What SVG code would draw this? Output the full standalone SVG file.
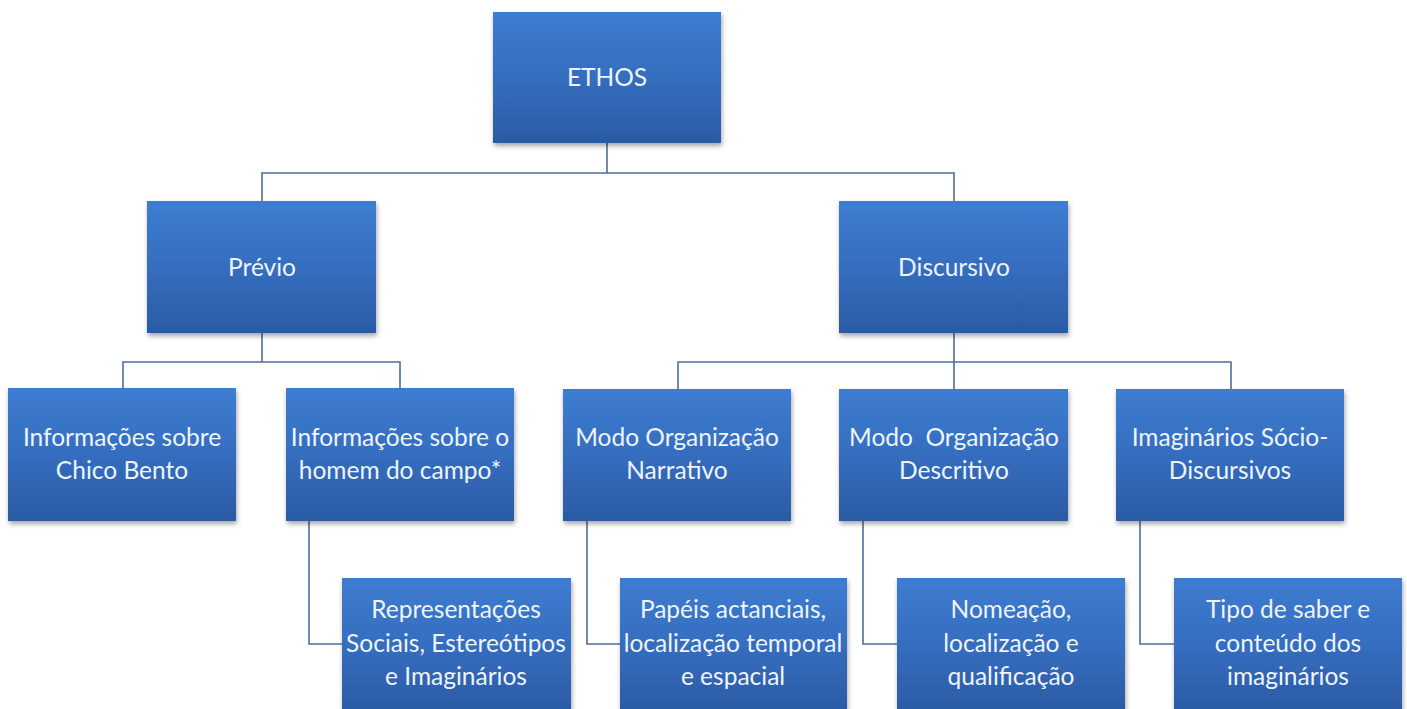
<svg xmlns="http://www.w3.org/2000/svg" width="1407" height="709" viewBox="0 0 1407 709">
<defs>
<linearGradient id="g" x1="0" y1="0" x2="0" y2="1">
<stop offset="0" stop-color="#3d7dd1"/>
<stop offset="0.5" stop-color="#356dbf"/>
<stop offset="1" stop-color="#2b5ba4"/>
</linearGradient>
<filter id="sh" x="-5%" y="-5%" width="115%" height="120%">
<feDropShadow dx="1" dy="3" stdDeviation="2.5" flood-color="#000" flood-opacity="0.35"/>
</filter>
</defs>
<style>
.box{fill:url(#g);filter:url(#sh)}
.t{font-family:Lato,"Liberation Sans",sans-serif;font-size:24.5px;fill:#eef4fc;text-anchor:middle}
.c{fill:none;stroke:#4d6f9c;stroke-width:1.6}
</style>
<rect width="1407" height="709" fill="#ffffff"/>
<g id="connectors">
<path class="c" d="M607 143 V173 M262 201 V173 H954 V201"/>
<path class="c" d="M262 333 V362 M123 388 V362 H400 V388"/>
<path class="c" d="M954 333 V389 M678 389 V362 H1231 V389"/>
<path class="c" d="M309 521 V644 H342"/>
<path class="c" d="M587 521 V644 H620"/>
<path class="c" d="M863 521 V644 H897"/>
<path class="c" d="M1140 521 V644 H1174"/>
</g>
<g id="ethos"><rect class="box" x="493" y="12" width="228" height="131"/><text class="t" x="607" y="86">ETHOS</text></g>
<g id="previo"><rect class="box" x="147" y="201" width="229" height="132"/><text class="t" x="262" y="276">Prévio</text></g>
<g id="discursivo"><rect class="box" x="839" y="201" width="229" height="132"/><text class="t" x="954" y="276">Discursivo</text></g>
<g id="chico"><rect class="box" x="8" y="388" width="228" height="133"/><text class="t" x="122" y="446">Informações sobre</text><text class="t" x="122" y="479">Chico Bento</text></g>
<g id="homem"><rect class="box" x="286" y="388" width="228" height="133"/><text class="t" x="400" y="446">Informações sobre o</text><text class="t" x="400" y="479">homem do campo*</text></g>
<g id="narrativo"><rect class="box" x="563" y="389" width="228" height="132"/><text class="t" x="677" y="446">Modo Organização</text><text class="t" x="677" y="479">Narrativo</text></g>
<g id="descritivo"><rect class="box" x="839" y="389" width="229" height="132"/><text class="t" x="954" y="446" xml:space="preserve">Modo  Organização</text><text class="t" x="954" y="479">Descritivo</text></g>
<g id="imaginarios"><rect class="box" x="1116" y="389" width="228" height="132"/><text class="t" x="1230" y="446">Imaginários Sócio-</text><text class="t" x="1230" y="479">Discursivos</text></g>
<g id="representacoes"><rect class="box" x="342" y="578" width="229" height="134"/><text class="t" x="456" y="618">Representações</text><text class="t" x="456" y="652">Sociais, Estereótipos</text><text class="t" x="456" y="685">e Imaginários</text></g>
<g id="papeis"><rect class="box" x="620" y="578" width="227" height="134"/><text class="t" x="733" y="618">Papéis actanciais,</text><text class="t" x="733" y="652">localização temporal</text><text class="t" x="733" y="685">e espacial</text></g>
<g id="nomeacao"><rect class="box" x="897" y="578" width="228" height="134"/><text class="t" x="1011" y="618">Nomeação,</text><text class="t" x="1011" y="652">localização e</text><text class="t" x="1011" y="685">qualificação</text></g>
<g id="tipo"><rect class="box" x="1174" y="578" width="228" height="134"/><text class="t" x="1288" y="618">Tipo de saber e</text><text class="t" x="1288" y="652">conteúdo dos</text><text class="t" x="1288" y="685">imaginários</text></g>
</svg>
